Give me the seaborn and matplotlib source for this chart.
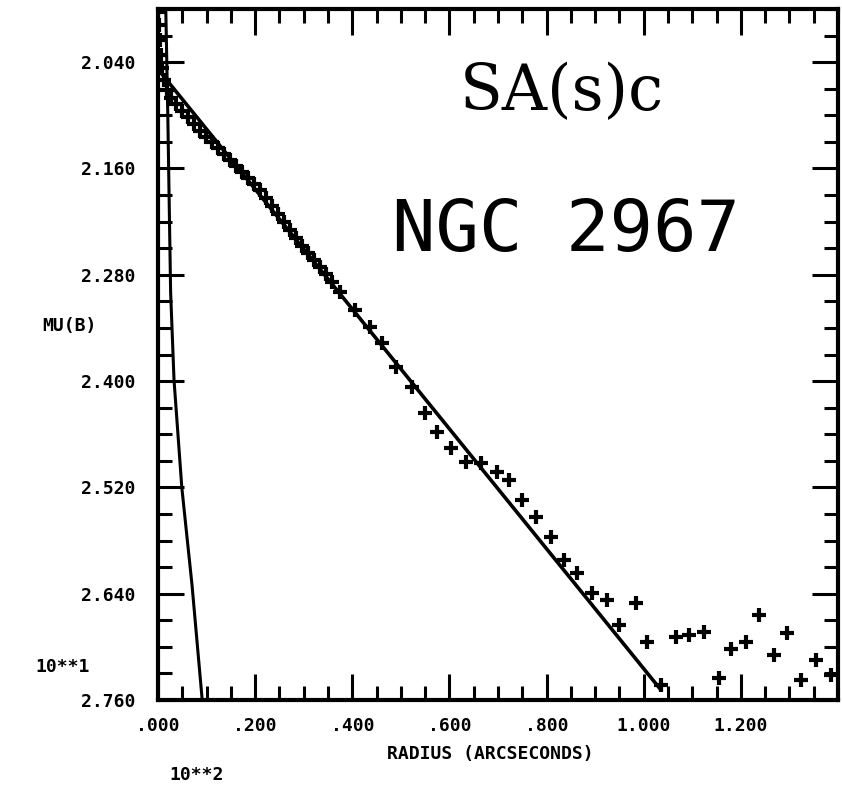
import numpy as np
import pandas as pd
import matplotlib
matplotlib.use("Agg")
import matplotlib.pyplot as plt
from matplotlib.ticker import MultipleLocator
import seaborn as sns

# ---- data (radius in units of 10**2 arcsec, mu in units of 10**1 mag) ----
obs_radius = [0.000, 0.002, 0.004, 0.006, 0.008, 0.012, 0.018, 0.027, 0.037, 0.049,
              0.062, 0.074, 0.086, 0.099, 0.111, 0.123, 0.136, 0.148, 0.160, 0.173,
              0.185, 0.197, 0.210, 0.222, 0.234, 0.247, 0.259, 0.271, 0.284, 0.296,
              0.308, 0.321, 0.333, 0.345, 0.358, 0.374, 0.405, 0.436, 0.462, 0.491,
              0.522, 0.549, 0.575, 0.604, 0.635, 0.666, 0.697, 0.723, 0.750, 0.779,
              0.810, 0.836, 0.863, 0.894, 0.925, 0.949, 0.984, 1.007, 1.036, 1.066,
              1.093, 1.124, 1.155, 1.179, 1.210, 1.237, 1.268, 1.294, 1.323, 1.354,
              1.385]
obs_mu = [1.983, 1.998, 2.015, 2.032, 2.047, 2.060, 2.071, 2.080, 2.087, 2.095,
          2.102, 2.110, 2.118, 2.124, 2.130, 2.137, 2.144, 2.150, 2.157, 2.164,
          2.171, 2.178, 2.184, 2.193, 2.202, 2.211, 2.220, 2.229, 2.238, 2.247,
          2.255, 2.263, 2.271, 2.279, 2.288, 2.299, 2.320, 2.339, 2.357, 2.384,
          2.407, 2.436, 2.457, 2.475, 2.491, 2.492, 2.503, 2.512, 2.534, 2.553,
          2.576, 2.602, 2.617, 2.639, 2.647, 2.675, 2.650, 2.694, 2.743, 2.689,
          2.687, 2.683, 2.735, 2.702, 2.694, 2.664, 2.709, 2.684, 2.737, 2.715,
          2.732]

disk_radius = [0.000, 1.036]
disk_mu = [2.048, 2.749]

bulge_radius = [0.016, 0.020, 0.026, 0.033, 0.049, 0.070, 0.091]
bulge_mu = [1.980, 2.094, 2.300, 2.399, 2.520, 2.630, 2.760]

x_ticks = [0.0, 0.2, 0.4, 0.6, 0.8, 1.0, 1.2]
x_tick_labels = [".000", ".200", ".400", ".600", ".800", "1.000", "1.200"]
y_ticks = [2.04, 2.16, 2.28, 2.40, 2.52, 2.64, 2.76]
y_tick_labels = ["2.040", "2.160", "2.280", "2.400", "2.520", "2.640", "2.760"]

# ---- figure ----
sns.set_theme(style="white")
plt.rcParams["font.family"] = ["DejaVu Sans Mono", "DejaVu Sans"]
plt.rcParams["text.color"] = "black"

W, H = 842, 789
fig = plt.figure(figsize=(W / 100, H / 100), dpi=100)
L, R, T, B = 158, 838, 9, 700
ax = fig.add_axes([L / W, 1 - B / H, (R - L) / W, (B - T) / H])

obs = pd.DataFrame({"radius": obs_radius, "mu": obs_mu})
disk = pd.DataFrame({"radius": disk_radius, "mu": disk_mu})
bulge = pd.DataFrame({"radius": bulge_radius, "mu": bulge_mu})

sns.lineplot(data=disk, x="radius", y="mu", color="black", linewidth=2.6,
             estimator=None, sort=False, ax=ax)
sns.lineplot(data=bulge, x="radius", y="mu", color="black", linewidth=2.2,
             estimator=None, sort=False, ax=ax)
sns.scatterplot(data=obs, x="radius", y="mu", marker="+", s=110, color="black",
                linewidth=3.0, ax=ax, zorder=5)

ax.set_xlim(0, 1.4)
ax.set_ylim(2.76, 1.98)
ax.set_xlabel("")
ax.set_ylabel("")

ax.set_xticks(x_ticks)
ax.set_xticklabels(x_tick_labels)
ax.set_yticks(y_ticks)
ax.set_yticklabels(y_tick_labels)
ax.xaxis.set_minor_locator(MultipleLocator(0.05))
ax.yaxis.set_minor_locator(MultipleLocator(0.03))

lab_font = dict(family="DejaVu Sans Mono", weight="bold", size=13, color="black")
ax.tick_params(which="both", direction="in", top=True, right=True,
               bottom=True, left=True, color="black", width=2.2)
ax.tick_params(which="major", length=19)
ax.tick_params(which="minor", length=10)
ax.tick_params(axis="y", which="major", pad=16)
ax.tick_params(axis="x", which="major", pad=12)
for lbl in ax.get_xticklabels() + ax.get_yticklabels():
    lbl.set_fontfamily("DejaVu Sans Mono")
    lbl.set_fontweight("bold")
    lbl.set_fontsize(13)
    lbl.set_color("black")

for sp in ax.spines.values():
    sp.set_visible(True)
    sp.set_color("black")
    sp.set_linewidth(3)
ax.set_facecolor("white")


def ftext(px, py, s, **kw):
    fig.text(px / W, 1 - py / H, s, **kw)


ftext(562, 93, "SA(s)c", ha="center", va="center", family="DejaVu Serif",
      size=45, color="black")
ftext(566, 231, "NGC 2967", ha="center", va="center", family="DejaVu Sans Mono",
      size=52, color="black")
ftext(42, 326, "MU(B)", ha="left", va="center", **lab_font)
ftext(63, 667, "10**1", ha="center", va="center", **lab_font)
ftext(197, 775, "10**2", ha="center", va="center", **lab_font)
ftext(490, 754, "RADIUS (ARCSECONDS)", ha="center", va="center", **lab_font)

fig.savefig("out.png", dpi=100, facecolor="white")
